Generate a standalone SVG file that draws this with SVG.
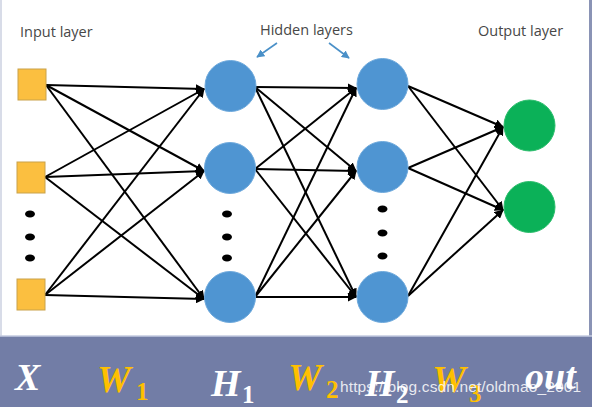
<svg xmlns="http://www.w3.org/2000/svg" width="592" height="407" viewBox="0 0 592 407">
<defs>
<style>
.lbl{font-family:"Open Sans","DejaVu Sans",sans-serif;font-size:14.5px;fill:#474747;}
.cn line{stroke:#000;stroke-width:2;}
.in{fill:#fbbf40;stroke:#c9a24a;stroke-width:1;}
.hid{fill:#4f95d2;stroke:#6ea9dc;stroke-width:1;}
.out{fill:#0bb158;stroke:#2bbd6c;stroke-width:1;}
.dot{fill:#000;}
.m{font-family:"Liberation Serif","DejaVu Serif",serif;font-weight:bold;font-style:italic;font-size:38px;}
.s{font-family:"Liberation Serif","DejaVu Serif",serif;font-weight:bold;font-size:25px;}
.wh{fill:#ffffff;}
.ye{fill:#ffc000;}
</style>
<marker id="ah" viewBox="0 0 10 10" refX="9" refY="5" markerWidth="4.5" markerHeight="4.5" orient="auto" markerUnits="strokeWidth">
<path d="M0,0 L10,5 L0,10 z" fill="#000"/>
</marker>
<marker id="bh" viewBox="0 0 10 10" refX="9" refY="5" markerWidth="5" markerHeight="5" orient="auto" markerUnits="strokeWidth">
<path d="M0,0 L10,5 L0,10 z" fill="#4a90c8"/>
</marker>
</defs>
<rect x="0" y="0" width="592" height="407" fill="#d8dce8"/>
<rect x="2" y="0" width="587" height="336" fill="#ffffff"/>
<rect x="589" y="0" width="3" height="336" fill="#8a93b5"/>
<rect x="0" y="336" width="592" height="71" fill="#727da6"/>
<line x1="0" y1="336" x2="592" y2="336" stroke="#c5cbe0" stroke-width="1.5"/>

<text class="lbl" x="20" y="37">Input layer</text>
<text class="lbl" x="260" y="35">Hidden layers</text>
<text class="lbl" x="478" y="36">Output layer</text>
<g id="hidden-arrows">
<line x1="277" y1="43" x2="257" y2="57" stroke="#4a90c8" stroke-width="1.6" marker-end="url(#bh)"/>
<line x1="329" y1="43" x2="349" y2="58" stroke="#4a90c8" stroke-width="1.6" marker-end="url(#bh)"/>
</g>

<g id="connectors" class="cn">
<line x1="46" y1="85" x2="204" y2="89" marker-end="url(#ah)"/>
<line x1="46" y1="85" x2="204" y2="171" marker-end="url(#ah)"/>
<line x1="46" y1="85" x2="204" y2="299" marker-end="url(#ah)"/>
<line x1="45" y1="177" x2="204" y2="89" marker-end="url(#ah)"/>
<line x1="45" y1="177" x2="204" y2="171" marker-end="url(#ah)"/>
<line x1="45" y1="177" x2="204" y2="299" marker-end="url(#ah)"/>
<line x1="45" y1="295" x2="204" y2="89" marker-end="url(#ah)"/>
<line x1="45" y1="295" x2="204" y2="171" marker-end="url(#ah)"/>
<line x1="45" y1="295" x2="204" y2="299" marker-end="url(#ah)"/>

<line x1="255" y1="87" x2="356" y2="88" marker-end="url(#ah)"/>
<line x1="255" y1="87" x2="356" y2="171" marker-end="url(#ah)"/>
<line x1="255" y1="87" x2="356" y2="297" marker-end="url(#ah)"/>
<line x1="255" y1="169" x2="356" y2="88" marker-end="url(#ah)"/>
<line x1="255" y1="169" x2="356" y2="171" marker-end="url(#ah)"/>
<line x1="255" y1="169" x2="356" y2="297" marker-end="url(#ah)"/>
<line x1="255" y1="297" x2="356" y2="88" marker-end="url(#ah)"/>
<line x1="255" y1="297" x2="356" y2="171" marker-end="url(#ah)"/>
<line x1="255" y1="297" x2="356" y2="297" marker-end="url(#ah)"/>

<line x1="408" y1="86" x2="503" y2="127" marker-end="url(#ah)"/>
<line x1="408" y1="86" x2="503" y2="210" marker-end="url(#ah)"/>
<line x1="408" y1="168" x2="503" y2="127" marker-end="url(#ah)"/>
<line x1="408" y1="168" x2="503" y2="210" marker-end="url(#ah)"/>
<line x1="408" y1="296" x2="503" y2="127" marker-end="url(#ah)"/>
<line x1="408" y1="296" x2="503" y2="210" marker-end="url(#ah)"/>
</g>

<g id="input-1"><rect class="in" x="18" y="69" width="28" height="31"/></g>
<g id="input-2"><rect class="in" x="17" y="162" width="28" height="31"/></g>
<g id="input-3"><rect class="in" x="17" y="279" width="28" height="31"/></g>
<g id="input-dots">
<ellipse class="dot" cx="30" cy="214" rx="5" ry="3.5"/>
<ellipse class="dot" cx="30" cy="237" rx="5" ry="3.5"/>
<ellipse class="dot" cx="30" cy="258" rx="5" ry="3.5"/>
</g>

<g id="h1-1"><circle class="hid" cx="230.5" cy="86" r="25.5"/></g>
<g id="h1-2"><circle class="hid" cx="230" cy="168" r="25.5"/></g>
<g id="h1-3"><circle class="hid" cx="230" cy="297" r="25.5"/></g>
<g id="h1-dots">
<ellipse class="dot" cx="227" cy="214" rx="5" ry="3.5"/>
<ellipse class="dot" cx="227" cy="237" rx="5" ry="3.5"/>
<ellipse class="dot" cx="227" cy="258" rx="5" ry="3.5"/>
</g>

<g id="h2-1"><circle class="hid" cx="382.5" cy="84" r="25.5"/></g>
<g id="h2-2"><circle class="hid" cx="382.5" cy="167" r="25.5"/></g>
<g id="h2-3"><circle class="hid" cx="382.5" cy="297" r="25.5"/></g>
<g id="h2-dots">
<ellipse class="dot" cx="382.5" cy="209" rx="5" ry="3.5"/>
<ellipse class="dot" cx="382.5" cy="233" rx="5" ry="3.5"/>
<ellipse class="dot" cx="382.5" cy="256" rx="5" ry="3.5"/>
</g>

<g id="out-1"><circle class="out" cx="529.5" cy="125.5" r="25.5"/></g>
<g id="out-2"><circle class="out" cx="529.5" cy="207" r="25.5"/></g>

<g id="bottom-labels">
<text class="m wh" x="15" y="390">X</text>
<text class="m ye" x="97" y="392">W</text><text class="s ye" x="136" y="400">1</text>
<text class="m wh" x="211" y="396">H</text><text class="s wh" x="242" y="403">1</text>
<text class="m ye" x="288" y="390">W</text><text class="s ye" x="326" y="398">2</text>
<text class="m wh" x="365" y="396">H</text><text class="s wh" x="396" y="403">2</text>
<text class="m ye" x="432" y="392">W</text><text class="s ye" x="469" y="402">3</text>
<text class="m wh" x="525" y="389">out</text>
</g>
<text x="340" y="392" font-family="Liberation Sans, Arial, sans-serif" font-size="15.5" fill="#ffffff" fill-opacity="0.85" textLength="241">https://blog.csdn.net/oldmao_2001</text>
</svg>
